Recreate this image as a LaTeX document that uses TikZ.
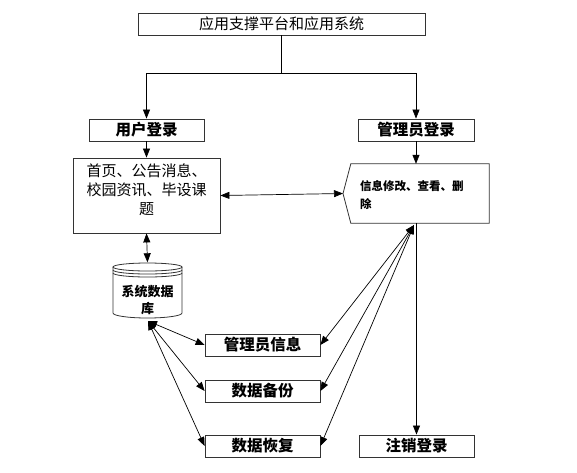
\documentclass[tikz,border=0pt]{standalone}
\usepackage{fontspec}
\setmainfont{Noto Sans CJK SC}
\usetikzlibrary{arrows.meta}
\begin{document}
\begin{tikzpicture}[x=1pt,y=-1pt,
  box/.style={draw=black!80, line width=0.8pt, minimum height=22pt, inner sep=0pt},
  outl/.style={draw=black!80, line width=0.8pt},
  ln/.style={line width=0.7pt},
  arr/.style={ln,-{Triangle[length=9pt,width=7pt]}},
  darr/.style={ln,{Triangle[length=9pt,width=7pt]}-{Triangle[length=9pt,width=7pt]}},
  bigf/.style={font=\fontsize{15}{19}\selectfont},
  bigb/.style={font=\fontsize{15.5}{19}\selectfont\bfseries},
  ]
\useasboundingbox (0,0) rectangle (577,472);
% nodes
\node[box,minimum width=287pt,bigf] (top) at (281.5,24) {应用支撑平台和应用系统};
\node[box,minimum width=115pt,bigb] (ul) at (146.5,130) {用户登录};
\node[box,minimum width=116pt,bigb] (al) at (416,130) {管理员登录};
\node[box,minimum width=147pt,minimum height=75pt] (home) at (146.5,195.5) {};
\node[bigf,align=center,text width=125pt,anchor=north,inner sep=0pt] (hometxt) at (146.5,164) {首页、公告消息、\\校园资讯、毕设课\\题};
% info shape
\node[minimum width=138pt,minimum height=59pt,inner sep=0pt] (info) at (420,193.5) {};
\coordinate (ip) at (343,193.5);
\draw[outl] (info.north west) -- (info.north east) -- (info.south east) -- (info.south west) -- (ip) -- cycle;
\node[anchor=north west,font=\fontsize{11.5}{18}\selectfont\bfseries,align=left,inner sep=0pt] (infotxt) at (360,180) {信息修改、查看、删\\除};
% database cylinder
\node[minimum width=69pt,minimum height=55pt,inner sep=0pt] (db) at (147.5,290) {};
\draw[outl] (113,267) -- (113,313) arc[start angle=180,end angle=360,x radius=34.5pt,y radius=5pt] -- (182,267);
\draw[outl] (147.5,267) ellipse[x radius=34.5pt,y radius=4pt];
\draw[outl] (113,270) arc[start angle=180,end angle=360,x radius=34.5pt,y radius=4pt];
\draw[outl] (113,273) arc[start angle=180,end angle=360,x radius=34.5pt,y radius=4pt];
\node[font=\fontsize{13}{17}\selectfont\bfseries,align=center,inner sep=0pt] (dbtxt) at (147.5,300) {系统数据\\库};
% lower boxes
\node[box,minimum width=115pt,bigb] (ai) at (262.5,345) {管理员信息};
\node[box,minimum width=115pt,bigb] (bk) at (262.5,391) {数据备份};
\node[box,minimum width=115pt,bigb] (rs) at (262.5,446) {数据恢复};
\node[box,minimum width=115pt,bigb] (lo) at (416.5,446) {注销登录};
% connectors
\draw[ln] (top.south) -- ++(0,38) coordinate (j);
\draw[arr] (j) -| (ul.north);
\draw[arr] (j) -| (al.north);
\draw[arr] (ul.south) -- (home.north);
\draw[arr] (al.south) -- (al.south |- info.north);
\draw[darr] (home.east) -- (ip);
\draw[darr] (home.south) -- (db.north);
\coordinate (dbc) at (148,321);
\coordinate (ic) at (414,225);
\draw[darr] (dbc) -- (ai.west);
\draw[darr] (dbc) -- (bk.west);
\draw[darr] (dbc) -- (rs.west);
\draw[darr] (ic) -- (ai.east);
\draw[darr] (ic) -- (bk.east);
\draw[darr] (ic) -- (rs.east);
\draw[arr] (info.south -| lo.north) -- (lo.north);
\end{tikzpicture}
\end{document}
